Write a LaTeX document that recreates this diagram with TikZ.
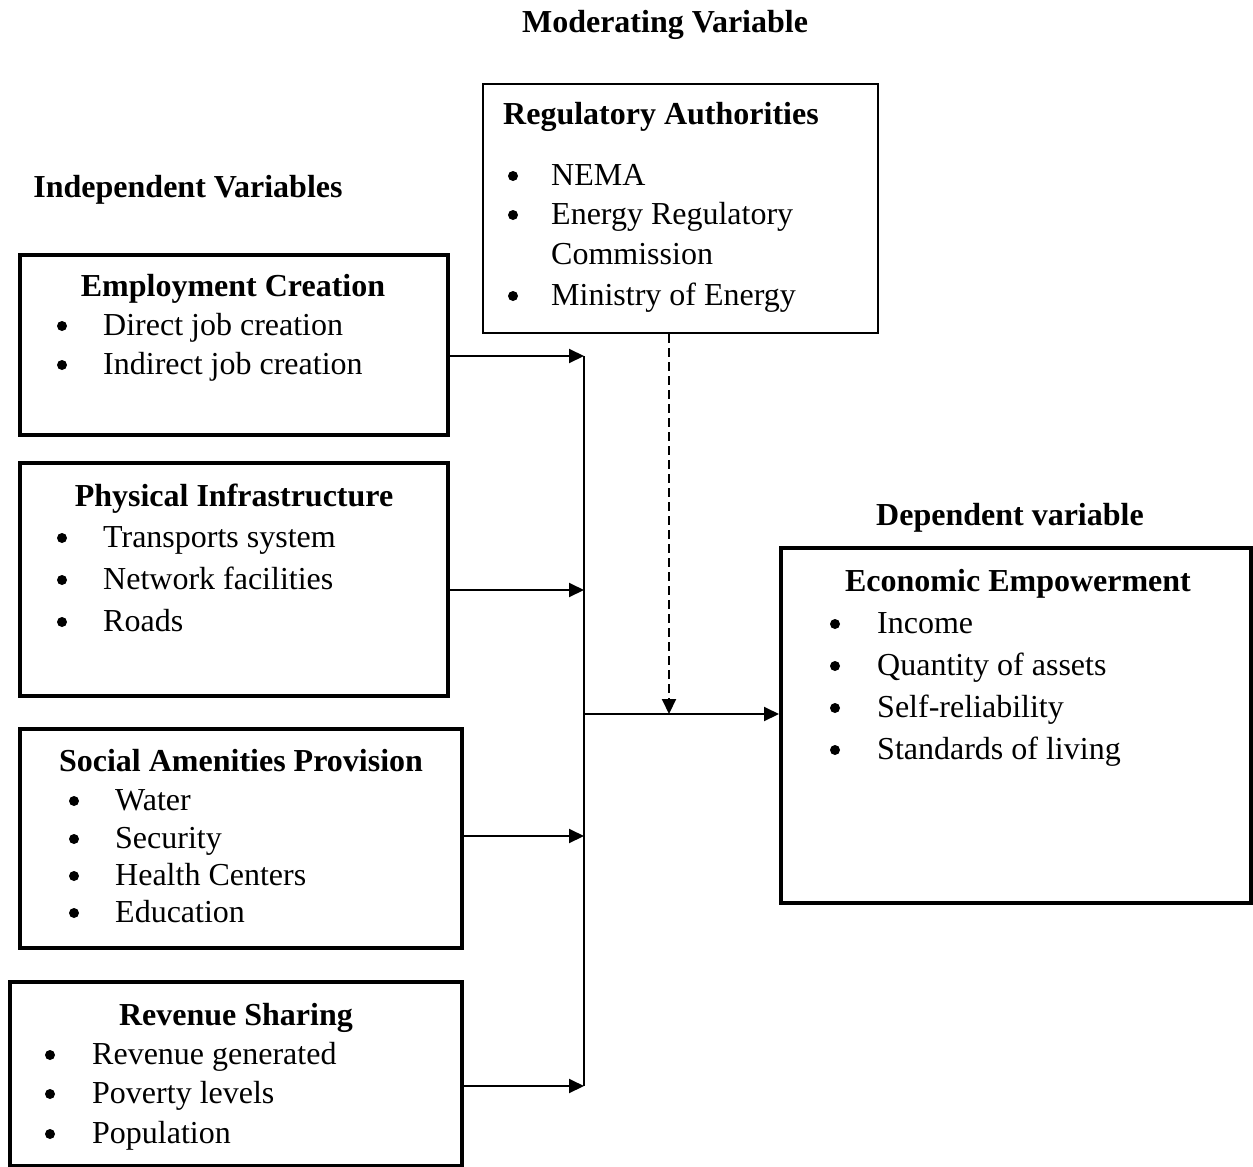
\documentclass[tikz,border=0pt]{standalone}
\usepackage{fontspec}
\setmainfont{Liberation Serif}
\usetikzlibrary{arrows.meta}
\begin{document}
\begin{tikzpicture}[x=1pt,y=-1pt,
  every node/.style={font=\fontsize{32}{38}\selectfont},
  thickbox/.style={draw, line width=4pt, inner sep=0pt, rectangle},
  thinbox/.style={draw, line width=2pt, inner sep=0pt, rectangle},
  heading/.style={anchor=base, font=\fontsize{32}{38}\selectfont\bfseries, inner sep=0pt},
  item/.style={anchor=base west, inner sep=0pt},
  bul/.style={circle, fill, inner sep=0pt, minimum size=10pt, yshift=9pt},
  conn/.style={line width=2pt},
  arr/.style={line width=2pt, -{Triangle[length=15pt,width=14pt]}},
  darr/.style={line width=2pt, dash pattern=on 9pt off 5pt, -{Triangle[length=15pt,width=14pt]}}]
\useasboundingbox (0,0) rectangle (1253,1167);

% headings
\node[heading] (hmod) at (665,32) {Moderating Variable};
\node[heading] (hind) at (188,197) {Independent Variables};
\node[heading] (hdep) at (1010,525) {Dependent variable};

% boxes
\node[thickbox, minimum width=428, minimum height=180] (emp) at (234,345) {};
\node[thickbox, minimum width=428, minimum height=233] (phy) at (234,579.5) {};
\node[thickbox, minimum width=442, minimum height=219] (soc) at (241,838.5) {};
\node[thickbox, minimum width=452, minimum height=184] (rev) at (236,1074) {};
\node[thinbox, minimum width=395, minimum height=249] (reg) at (680.5,208.5) {};
\node[thickbox, minimum width=470, minimum height=355] (eco) at (1016,725.5) {};

% Employment Creation
\node[heading] (t1) at (233,296) {Employment Creation};
\node[bul] (b11) at (62,335) {};
\node[item] (i11) at (103,335) {Direct job creation};
\node[bul] (b12) at (62,374) {};
\node[item] (i12) at (103,374) {Indirect job creation};

% Physical Infrastructure
\node[heading] (t2) at (234,506) {Physical Infrastructure};
\node[bul] (b21) at (62,547) {};
\node[item] (i21) at (103,547) {Transports system};
\node[bul] (b22) at (62,589) {};
\node[item] (i22) at (103,589) {Network facilities};
\node[bul] (b23) at (62,631) {};
\node[item] (i23) at (103,631) {Roads};

% Social Amenities Provision
\node[heading] (t3) at (241,771) {Social Amenities Provision};
\node[bul] (b31) at (74,810) {};
\node[item] (i31) at (115,810) {Water};
\node[bul] (b32) at (74,848) {};
\node[item] (i32) at (115,848) {Security};
\node[bul] (b33) at (74,885) {};
\node[item] (i33) at (115,885) {Health Centers};
\node[bul] (b34) at (74,922) {};
\node[item] (i34) at (115,922) {Education};

% Revenue Sharing
\node[heading] (t4) at (236,1025) {Revenue Sharing};
\node[bul] (b41) at (50,1064) {};
\node[item] (i41) at (92,1064) {Revenue generated};
\node[bul] (b42) at (50,1103) {};
\node[item] (i42) at (92,1103) {Poverty levels};
\node[bul] (b43) at (50,1143) {};
\node[item] (i43) at (92,1143) {Population};

% Regulatory Authorities
\node[item, font=\fontsize{32}{38}\selectfont\bfseries] (t5) at (503,124) {Regulatory Authorities};
\node[bul] (b51) at (513,185) {};
\node[item] (i51) at (551,185) {NEMA};
\node[bul] (b52) at (513,224) {};
\node[item] (i52) at (551,224) {Energy Regulatory};
\node[item] (i53) at (551,264) {Commission};
\node[bul] (b54) at (513,305) {};
\node[item] (i54) at (551,305) {Ministry of Energy};

% Economic Empowerment
\node[heading] (t6) at (1018,591) {Economic Empowerment};
\node[bul] (b61) at (835,633) {};
\node[item] (i61) at (877,633) {Income};
\node[bul] (b62) at (835,675) {};
\node[item] (i62) at (877,675) {Quantity of assets};
\node[bul] (b63) at (835,717) {};
\node[item] (i63) at (877,717) {Self-reliability};
\node[bul] (b64) at (835,759) {};
\node[item] (i64) at (877,759) {Standards of living};

% connectors
\coordinate (j1) at (584,356);
\coordinate (j2) at (584,590);
\coordinate (j3) at (584,836);
\coordinate (j4) at (584,1086);
\coordinate (jm) at (584,714);
\coordinate (jd) at (669,714);

\draw[arr] (emp.east |- j1) -- (j1);
\draw[arr] (phy.east |- j2) -- (j2);
\draw[arr] (soc.east |- j3) -- (j3);
\draw[arr] (rev.east |- j4) -- (j4);
\draw[conn] (j1) -- (j4);
\draw[arr] (jm) -- (eco.west |- jm);
\draw[darr] (reg.south -| jd) -- (jd);
\end{tikzpicture}
\end{document}
